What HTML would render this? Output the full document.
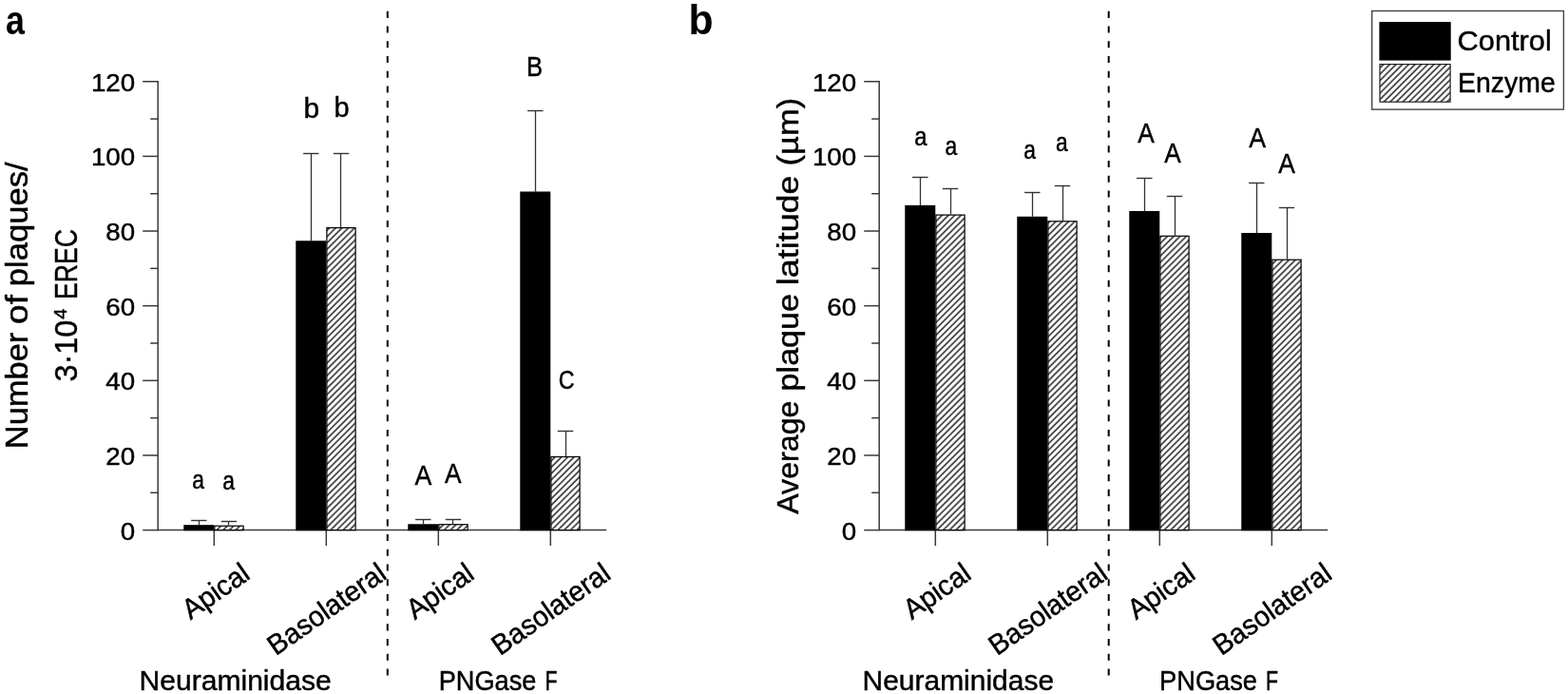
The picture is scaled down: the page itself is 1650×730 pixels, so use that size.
<!DOCTYPE html>
<html><head><meta charset="utf-8"><title>Figure</title>
<style>html,body{margin:0;padding:0;background:#fff;overflow:hidden;}svg{display:block;}</style>
</head><body>
<svg width="1650" height="730" viewBox="0 0 1650 730">
<rect width="1650" height="730" fill="#fff"/>
<defs><pattern id="hatch" patternUnits="userSpaceOnUse" width="4.7" height="20" patternTransform="rotate(45)"><rect width="4.7" height="20" fill="#fff"/><line x1="1" y1="0" x2="1" y2="20" stroke="#000" stroke-width="1.3"/></pattern></defs>
<line x1="166.2" y1="85.06" x2="166.2" y2="558.30" stroke="#3a3a3a" stroke-width="1.5"/>
<line x1="150.2" y1="557.60" x2="166.2" y2="557.60" stroke="#3a3a3a" stroke-width="1.5"/>
<line x1="158.2" y1="518.28" x2="166.2" y2="518.28" stroke="#3a3a3a" stroke-width="1.5"/>
<line x1="150.2" y1="478.96" x2="166.2" y2="478.96" stroke="#3a3a3a" stroke-width="1.5"/>
<line x1="158.2" y1="439.64" x2="166.2" y2="439.64" stroke="#3a3a3a" stroke-width="1.5"/>
<line x1="150.2" y1="400.32" x2="166.2" y2="400.32" stroke="#3a3a3a" stroke-width="1.5"/>
<line x1="158.2" y1="361.00" x2="166.2" y2="361.00" stroke="#3a3a3a" stroke-width="1.5"/>
<line x1="150.2" y1="321.68" x2="166.2" y2="321.68" stroke="#3a3a3a" stroke-width="1.5"/>
<line x1="158.2" y1="282.36" x2="166.2" y2="282.36" stroke="#3a3a3a" stroke-width="1.5"/>
<line x1="150.2" y1="243.04" x2="166.2" y2="243.04" stroke="#3a3a3a" stroke-width="1.5"/>
<line x1="158.2" y1="203.72" x2="166.2" y2="203.72" stroke="#3a3a3a" stroke-width="1.5"/>
<line x1="150.2" y1="164.40" x2="166.2" y2="164.40" stroke="#3a3a3a" stroke-width="1.5"/>
<line x1="158.2" y1="125.08" x2="166.2" y2="125.08" stroke="#3a3a3a" stroke-width="1.5"/>
<line x1="150.2" y1="85.76" x2="166.2" y2="85.76" stroke="#3a3a3a" stroke-width="1.5"/>
<line x1="166.2" y1="557.6" x2="638.2" y2="557.6" stroke="#3a3a3a" stroke-width="1.5"/>
<line x1="225.30" y1="557.6" x2="225.30" y2="574.1" stroke="#3a3a3a" stroke-width="1.5"/>
<line x1="343.30" y1="557.6" x2="343.30" y2="574.1" stroke="#3a3a3a" stroke-width="1.5"/>
<line x1="461.30" y1="557.6" x2="461.30" y2="574.1" stroke="#3a3a3a" stroke-width="1.5"/>
<line x1="579.30" y1="557.6" x2="579.30" y2="574.1" stroke="#3a3a3a" stroke-width="1.5"/>
<line x1="209.50" y1="547.50" x2="209.50" y2="552.20" stroke="#333" stroke-width="1.3"/>
<line x1="201.10" y1="547.50" x2="217.50" y2="547.50" stroke="#333" stroke-width="1.4"/>
<line x1="240.50" y1="548.50" x2="240.50" y2="552.60" stroke="#333" stroke-width="1.3"/>
<line x1="232.80" y1="548.50" x2="249.20" y2="548.50" stroke="#333" stroke-width="1.4"/>
<rect x="193.90" y="552.80" width="30.80" height="4.80" fill="#000" stroke="#000" stroke-width="1.2"/>
<rect x="225.90" y="553.20" width="30.20" height="4.40" fill="url(#hatch)" stroke="#000" stroke-width="1.2"/>
<line x1="327.50" y1="161.50" x2="327.50" y2="253.30" stroke="#333" stroke-width="1.3"/>
<line x1="319.10" y1="161.50" x2="335.50" y2="161.50" stroke="#333" stroke-width="1.4"/>
<line x1="358.50" y1="161.50" x2="358.50" y2="239.00" stroke="#333" stroke-width="1.3"/>
<line x1="350.80" y1="161.50" x2="367.20" y2="161.50" stroke="#333" stroke-width="1.4"/>
<rect x="311.90" y="253.90" width="30.80" height="303.70" fill="#000" stroke="#000" stroke-width="1.2"/>
<rect x="343.90" y="239.60" width="30.20" height="318.00" fill="url(#hatch)" stroke="#000" stroke-width="1.2"/>
<line x1="445.50" y1="546.50" x2="445.50" y2="551.30" stroke="#333" stroke-width="1.3"/>
<line x1="437.10" y1="546.50" x2="453.50" y2="546.50" stroke="#333" stroke-width="1.4"/>
<line x1="476.50" y1="546.50" x2="476.50" y2="551.10" stroke="#333" stroke-width="1.3"/>
<line x1="468.80" y1="546.50" x2="485.20" y2="546.50" stroke="#333" stroke-width="1.4"/>
<rect x="429.90" y="551.90" width="30.80" height="5.70" fill="#000" stroke="#000" stroke-width="1.2"/>
<rect x="461.90" y="551.70" width="30.20" height="5.90" fill="url(#hatch)" stroke="#000" stroke-width="1.2"/>
<line x1="563.50" y1="116.50" x2="563.50" y2="201.50" stroke="#333" stroke-width="1.3"/>
<line x1="555.10" y1="116.50" x2="571.50" y2="116.50" stroke="#333" stroke-width="1.4"/>
<line x1="595.50" y1="453.50" x2="595.50" y2="479.90" stroke="#333" stroke-width="1.3"/>
<line x1="586.80" y1="453.50" x2="603.20" y2="453.50" stroke="#333" stroke-width="1.4"/>
<rect x="547.90" y="202.10" width="30.80" height="355.50" fill="#000" stroke="#000" stroke-width="1.2"/>
<rect x="579.90" y="480.50" width="30.20" height="77.10" fill="url(#hatch)" stroke="#000" stroke-width="1.2"/>
<line x1="407.8" y1="11.8" x2="407.8" y2="711" stroke="#000" stroke-width="2" stroke-dasharray="7.1 8.62"/>
<line x1="925.2" y1="85.06" x2="925.2" y2="558.30" stroke="#3a3a3a" stroke-width="1.5"/>
<line x1="909.2" y1="557.60" x2="925.2" y2="557.60" stroke="#3a3a3a" stroke-width="1.5"/>
<line x1="917.2" y1="518.28" x2="925.2" y2="518.28" stroke="#3a3a3a" stroke-width="1.5"/>
<line x1="909.2" y1="478.96" x2="925.2" y2="478.96" stroke="#3a3a3a" stroke-width="1.5"/>
<line x1="917.2" y1="439.64" x2="925.2" y2="439.64" stroke="#3a3a3a" stroke-width="1.5"/>
<line x1="909.2" y1="400.32" x2="925.2" y2="400.32" stroke="#3a3a3a" stroke-width="1.5"/>
<line x1="917.2" y1="361.00" x2="925.2" y2="361.00" stroke="#3a3a3a" stroke-width="1.5"/>
<line x1="909.2" y1="321.68" x2="925.2" y2="321.68" stroke="#3a3a3a" stroke-width="1.5"/>
<line x1="917.2" y1="282.36" x2="925.2" y2="282.36" stroke="#3a3a3a" stroke-width="1.5"/>
<line x1="909.2" y1="243.04" x2="925.2" y2="243.04" stroke="#3a3a3a" stroke-width="1.5"/>
<line x1="917.2" y1="203.72" x2="925.2" y2="203.72" stroke="#3a3a3a" stroke-width="1.5"/>
<line x1="909.2" y1="164.40" x2="925.2" y2="164.40" stroke="#3a3a3a" stroke-width="1.5"/>
<line x1="917.2" y1="125.08" x2="925.2" y2="125.08" stroke="#3a3a3a" stroke-width="1.5"/>
<line x1="909.2" y1="85.76" x2="925.2" y2="85.76" stroke="#3a3a3a" stroke-width="1.5"/>
<line x1="925.2" y1="557.6" x2="1397.2" y2="557.6" stroke="#3a3a3a" stroke-width="1.5"/>
<line x1="984.30" y1="557.6" x2="984.30" y2="574.1" stroke="#3a3a3a" stroke-width="1.5"/>
<line x1="1102.30" y1="557.6" x2="1102.30" y2="574.1" stroke="#3a3a3a" stroke-width="1.5"/>
<line x1="1220.30" y1="557.6" x2="1220.30" y2="574.1" stroke="#3a3a3a" stroke-width="1.5"/>
<line x1="1338.30" y1="557.6" x2="1338.30" y2="574.1" stroke="#3a3a3a" stroke-width="1.5"/>
<line x1="968.50" y1="186.50" x2="968.50" y2="215.90" stroke="#333" stroke-width="1.3"/>
<line x1="960.10" y1="186.50" x2="976.50" y2="186.50" stroke="#333" stroke-width="1.4"/>
<line x1="1000.50" y1="198.50" x2="1000.50" y2="225.50" stroke="#333" stroke-width="1.3"/>
<line x1="991.80" y1="198.50" x2="1008.20" y2="198.50" stroke="#333" stroke-width="1.4"/>
<rect x="952.90" y="216.50" width="30.80" height="341.10" fill="#000" stroke="#000" stroke-width="1.2"/>
<rect x="984.90" y="226.10" width="30.20" height="331.50" fill="url(#hatch)" stroke="#000" stroke-width="1.2"/>
<line x1="1086.50" y1="202.50" x2="1086.50" y2="227.80" stroke="#333" stroke-width="1.3"/>
<line x1="1078.10" y1="202.50" x2="1094.50" y2="202.50" stroke="#333" stroke-width="1.4"/>
<line x1="1118.50" y1="195.50" x2="1118.50" y2="232.20" stroke="#333" stroke-width="1.3"/>
<line x1="1109.80" y1="195.50" x2="1126.20" y2="195.50" stroke="#333" stroke-width="1.4"/>
<rect x="1070.90" y="228.40" width="30.80" height="329.20" fill="#000" stroke="#000" stroke-width="1.2"/>
<rect x="1102.90" y="232.80" width="30.20" height="324.80" fill="url(#hatch)" stroke="#000" stroke-width="1.2"/>
<line x1="1204.50" y1="187.50" x2="1204.50" y2="222.00" stroke="#333" stroke-width="1.3"/>
<line x1="1196.10" y1="187.50" x2="1212.50" y2="187.50" stroke="#333" stroke-width="1.4"/>
<line x1="1236.50" y1="206.50" x2="1236.50" y2="247.70" stroke="#333" stroke-width="1.3"/>
<line x1="1227.80" y1="206.50" x2="1244.20" y2="206.50" stroke="#333" stroke-width="1.4"/>
<rect x="1188.90" y="222.60" width="30.80" height="335.00" fill="#000" stroke="#000" stroke-width="1.2"/>
<rect x="1220.90" y="248.30" width="30.20" height="309.30" fill="url(#hatch)" stroke="#000" stroke-width="1.2"/>
<line x1="1322.50" y1="192.50" x2="1322.50" y2="245.00" stroke="#333" stroke-width="1.3"/>
<line x1="1314.10" y1="192.50" x2="1330.50" y2="192.50" stroke="#333" stroke-width="1.4"/>
<line x1="1354.50" y1="218.50" x2="1354.50" y2="272.60" stroke="#333" stroke-width="1.3"/>
<line x1="1345.80" y1="218.50" x2="1362.20" y2="218.50" stroke="#333" stroke-width="1.4"/>
<rect x="1306.90" y="245.60" width="30.80" height="312.00" fill="#000" stroke="#000" stroke-width="1.2"/>
<rect x="1338.90" y="273.20" width="30.20" height="284.40" fill="url(#hatch)" stroke="#000" stroke-width="1.2"/>
<line x1="1166.7" y1="11.8" x2="1166.7" y2="711" stroke="#000" stroke-width="2" stroke-dasharray="7.1 8.62"/>
<text transform="translate(6.12,36.17) scale(0.1794,0.2145)" font-size="200" font-family="'Liberation Sans', Arial, sans-serif" font-weight="bold" fill="#000">a</text>
<text transform="translate(724.52,36.15) scale(0.2139,0.2231)" font-size="200" font-family="'Liberation Sans', Arial, sans-serif" font-weight="bold" fill="#000">b</text>
<text transform="translate(126.70,567.61) scale(0.1385,0.1335)" font-size="200" font-family="'Liberation Sans', Arial, sans-serif" fill="#000" stroke="#000" stroke-width="3.31" stroke-linejoin="round">0</text>
<text transform="translate(111.33,488.97) scale(0.1385,0.1335)" font-size="200" font-family="'Liberation Sans', Arial, sans-serif" fill="#000" stroke="#000" stroke-width="3.31" stroke-linejoin="round">20</text>
<text transform="translate(111.33,410.33) scale(0.1385,0.1335)" font-size="200" font-family="'Liberation Sans', Arial, sans-serif" fill="#000" stroke="#000" stroke-width="3.31" stroke-linejoin="round">40</text>
<text transform="translate(111.33,331.69) scale(0.1385,0.1335)" font-size="200" font-family="'Liberation Sans', Arial, sans-serif" fill="#000" stroke="#000" stroke-width="3.31" stroke-linejoin="round">60</text>
<text transform="translate(111.33,253.05) scale(0.1385,0.1335)" font-size="200" font-family="'Liberation Sans', Arial, sans-serif" fill="#000" stroke="#000" stroke-width="3.31" stroke-linejoin="round">80</text>
<text transform="translate(95.95,174.41) scale(0.1385,0.1335)" font-size="200" font-family="'Liberation Sans', Arial, sans-serif" fill="#000" stroke="#000" stroke-width="3.31" stroke-linejoin="round">100</text>
<text transform="translate(95.95,95.77) scale(0.1385,0.1335)" font-size="200" font-family="'Liberation Sans', Arial, sans-serif" fill="#000" stroke="#000" stroke-width="3.31" stroke-linejoin="round">120</text>
<text transform="translate(885.70,567.61) scale(0.1385,0.1335)" font-size="200" font-family="'Liberation Sans', Arial, sans-serif" fill="#000" stroke="#000" stroke-width="3.31" stroke-linejoin="round">0</text>
<text transform="translate(870.33,488.97) scale(0.1385,0.1335)" font-size="200" font-family="'Liberation Sans', Arial, sans-serif" fill="#000" stroke="#000" stroke-width="3.31" stroke-linejoin="round">20</text>
<text transform="translate(870.33,410.33) scale(0.1385,0.1335)" font-size="200" font-family="'Liberation Sans', Arial, sans-serif" fill="#000" stroke="#000" stroke-width="3.31" stroke-linejoin="round">40</text>
<text transform="translate(870.33,331.69) scale(0.1385,0.1335)" font-size="200" font-family="'Liberation Sans', Arial, sans-serif" fill="#000" stroke="#000" stroke-width="3.31" stroke-linejoin="round">60</text>
<text transform="translate(870.33,253.05) scale(0.1385,0.1335)" font-size="200" font-family="'Liberation Sans', Arial, sans-serif" fill="#000" stroke="#000" stroke-width="3.31" stroke-linejoin="round">80</text>
<text transform="translate(854.95,174.41) scale(0.1385,0.1335)" font-size="200" font-family="'Liberation Sans', Arial, sans-serif" fill="#000" stroke="#000" stroke-width="3.31" stroke-linejoin="round">100</text>
<text transform="translate(854.95,95.77) scale(0.1385,0.1335)" font-size="200" font-family="'Liberation Sans', Arial, sans-serif" fill="#000" stroke="#000" stroke-width="3.31" stroke-linejoin="round">120</text>
<text transform="translate(202.20,513.69) scale(0.1142,0.1405)" font-size="200" font-family="'Liberation Sans', Arial, sans-serif" fill="#000" stroke="#000" stroke-width="3.55" stroke-linejoin="round">a</text>
<text transform="translate(234.20,515.30) scale(0.1142,0.1386)" font-size="200" font-family="'Liberation Sans', Arial, sans-serif" fill="#000" stroke="#000" stroke-width="3.58" stroke-linejoin="round">a</text>
<text transform="translate(319.38,124.18) scale(0.1494,0.1486)" font-size="200" font-family="'Liberation Sans', Arial, sans-serif" fill="#000" stroke="#000" stroke-width="3.02" stroke-linejoin="round">b</text>
<text transform="translate(351.44,123.28) scale(0.1450,0.1500)" font-size="200" font-family="'Liberation Sans', Arial, sans-serif" fill="#000" stroke="#000" stroke-width="3.05" stroke-linejoin="round">b</text>
<text transform="translate(436.39,509.67) scale(0.1337,0.1475)" font-size="200" font-family="'Liberation Sans', Arial, sans-serif" fill="#000" stroke="#000" stroke-width="3.20" stroke-linejoin="round">A</text>
<text transform="translate(468.09,507.67) scale(0.1314,0.1467)" font-size="200" font-family="'Liberation Sans', Arial, sans-serif" fill="#000" stroke="#000" stroke-width="3.24" stroke-linejoin="round">A</text>
<text transform="translate(553.98,79.68) scale(0.1276,0.1482)" font-size="200" font-family="'Liberation Sans', Arial, sans-serif" fill="#000" stroke="#000" stroke-width="3.27" stroke-linejoin="round">B</text>
<text transform="translate(587.66,409.39) scale(0.1163,0.1419)" font-size="200" font-family="'Liberation Sans', Arial, sans-serif" fill="#000" stroke="#000" stroke-width="3.50" stroke-linejoin="round">C</text>
<text transform="translate(962.35,152.60) scale(0.1191,0.1395)" font-size="200" font-family="'Liberation Sans', Arial, sans-serif" fill="#000" stroke="#000" stroke-width="3.49" stroke-linejoin="round">a</text>
<text transform="translate(994.40,163.10) scale(0.1142,0.1395)" font-size="200" font-family="'Liberation Sans', Arial, sans-serif" fill="#000" stroke="#000" stroke-width="3.56" stroke-linejoin="round">a</text>
<text transform="translate(1077.30,167.09) scale(0.1142,0.1405)" font-size="200" font-family="'Liberation Sans', Arial, sans-serif" fill="#000" stroke="#000" stroke-width="3.55" stroke-linejoin="round">a</text>
<text transform="translate(1110.90,159.20) scale(0.1142,0.1377)" font-size="200" font-family="'Liberation Sans', Arial, sans-serif" fill="#000" stroke="#000" stroke-width="3.59" stroke-linejoin="round">a</text>
<text transform="translate(1197.19,150.28) scale(0.1314,0.1438)" font-size="200" font-family="'Liberation Sans', Arial, sans-serif" fill="#000" stroke="#000" stroke-width="3.27" stroke-linejoin="round">A</text>
<text transform="translate(1225.29,170.78) scale(0.1314,0.1467)" font-size="200" font-family="'Liberation Sans', Arial, sans-serif" fill="#000" stroke="#000" stroke-width="3.24" stroke-linejoin="round">A</text>
<text transform="translate(1314.29,154.88) scale(0.1337,0.1438)" font-size="200" font-family="'Liberation Sans', Arial, sans-serif" fill="#000" stroke="#000" stroke-width="3.24" stroke-linejoin="round">A</text>
<text transform="translate(1345.19,181.58) scale(0.1322,0.1467)" font-size="200" font-family="'Liberation Sans', Arial, sans-serif" fill="#000" stroke="#000" stroke-width="3.23" stroke-linejoin="round">A</text>
<text transform="translate(146.52,726.08) scale(0.1504,0.1466)" font-size="200" font-family="'Liberation Sans', Arial, sans-serif" fill="#000" stroke="#000" stroke-width="3.03" stroke-linejoin="round">Neuraminidase</text>
<text transform="translate(461.65,725.99) scale(0.1359,0.1447)" font-size="200" font-family="'Liberation Sans', Arial, sans-serif" fill="#000" stroke="#000" stroke-width="3.21" stroke-linejoin="round">PNGase</text>
<text transform="translate(573.52,726.07) scale(0.1066,0.1475)" font-size="200" font-family="'Liberation Sans', Arial, sans-serif" fill="#000" stroke="#000" stroke-width="3.59" stroke-linejoin="round">F</text>
<text transform="translate(907.53,726.08) scale(0.1499,0.1466)" font-size="200" font-family="'Liberation Sans', Arial, sans-serif" fill="#000" stroke="#000" stroke-width="3.04" stroke-linejoin="round">Neuraminidase</text>
<text transform="translate(1220.05,725.99) scale(0.1362,0.1447)" font-size="200" font-family="'Liberation Sans', Arial, sans-serif" fill="#000" stroke="#000" stroke-width="3.21" stroke-linejoin="round">PNGase</text>
<text transform="translate(1332.02,726.07) scale(0.1066,0.1475)" font-size="200" font-family="'Liberation Sans', Arial, sans-serif" fill="#000" stroke="#000" stroke-width="3.59" stroke-linejoin="round">F</text>
<rect x="1443.7" y="11.5" width="201.7" height="103.6" fill="none" stroke="#444" stroke-width="1.4"/>
<rect x="1452" y="23.7" width="74.1" height="39.3" fill="#000" stroke="#000" stroke-width="1.2"/>
<rect x="1452" y="67.6" width="74.1" height="39.6" fill="url(#hatch)" stroke="#222" stroke-width="1.2"/>
<text transform="translate(1533.59,52.99) scale(0.1539,0.1432)" font-size="200" font-family="'Liberation Sans', Arial, sans-serif" fill="#000" stroke="#000" stroke-width="3.03" stroke-linejoin="round">Control</text>
<text transform="translate(1534.05,97.37) scale(0.1421,0.1431)" font-size="200" font-family="'Liberation Sans', Arial, sans-serif" fill="#000" stroke="#000" stroke-width="3.16" stroke-linejoin="round">Enzyme</text>
<text transform="translate(28.57,469.47) rotate(-90) translate(-2.76,0.00) scale(0.1723,0.1661)" font-size="200" font-family="'Liberation Sans', Arial, sans-serif" fill="#000" stroke="#000" stroke-width="2.66" stroke-linejoin="round">Number</text>
<text transform="translate(28.57,339.47) rotate(-90) translate(-1.48,0.00) scale(0.1852,0.1661)" font-size="200" font-family="'Liberation Sans', Arial, sans-serif" fill="#000" stroke="#000" stroke-width="2.57" stroke-linejoin="round">of</text>
<text transform="translate(28.57,298.88) rotate(-90) translate(-2.25,0.00) scale(0.1731,0.1661)" font-size="200" font-family="'Liberation Sans', Arial, sans-serif" fill="#000" stroke="#000" stroke-width="2.65" stroke-linejoin="round">plaques/</text>
<text transform="translate(81.48,400.27) rotate(-90) translate(-1.30,0.00) scale(0.1621,0.1632)" font-size="200" font-family="'Liberation Sans', Arial, sans-serif" fill="#000" stroke="#000" stroke-width="2.77" stroke-linejoin="round">3·10</text>
<text transform="translate(70.18,335.17) rotate(-90) translate(-0.50,-0.00) scale(0.1005,0.0909)" font-size="200" font-family="'Liberation Sans', Arial, sans-serif" fill="#000" stroke="#000" stroke-width="4.71" stroke-linejoin="round">4</text>
<text transform="translate(81.28,312.77) rotate(-90) translate(-2.13,0.00) scale(0.1332,0.1632)" font-size="200" font-family="'Liberation Sans', Arial, sans-serif" fill="#000" stroke="#000" stroke-width="3.05" stroke-linejoin="round">EREC</text>
<text transform="translate(840.48,540.67) rotate(-90) translate(-0.16,0.00) scale(0.1609,0.1602)" font-size="200" font-family="'Liberation Sans', Arial, sans-serif" fill="#000" stroke="#000" stroke-width="2.80" stroke-linejoin="round">Average</text>
<text transform="translate(840.48,409.17) rotate(-90) translate(-2.22,0.00) scale(0.1705,0.1602)" font-size="200" font-family="'Liberation Sans', Arial, sans-serif" fill="#000" stroke="#000" stroke-width="2.72" stroke-linejoin="round">plaque</text>
<text transform="translate(840.48,297.88) rotate(-90) translate(-2.33,0.00) scale(0.1795,0.1602)" font-size="200" font-family="'Liberation Sans', Arial, sans-serif" fill="#000" stroke="#000" stroke-width="2.65" stroke-linejoin="round">latitude</text>
<text transform="translate(840.48,172.38) rotate(-90) translate(-2.08,0.00) scale(0.1729,0.1602)" font-size="200" font-family="'Liberation Sans', Arial, sans-serif" fill="#000" stroke="#000" stroke-width="2.70" stroke-linejoin="round">(µm)</text>
<text transform="translate(200.48,652.56) rotate(-35) translate(0.00,0.00) scale(0.1442,0.1493)" font-size="200" font-family="'Liberation Sans', Arial, sans-serif" fill="#000" stroke="#000" stroke-width="3.07" stroke-linejoin="round">Apical</text>
<text transform="translate(290.27,690.29) rotate(-35) translate(0.00,0.00) scale(0.1442,0.1493)" font-size="200" font-family="'Liberation Sans', Arial, sans-serif" fill="#000" stroke="#000" stroke-width="3.07" stroke-linejoin="round">Basolateral</text>
<text transform="translate(436.48,652.56) rotate(-35) translate(0.00,0.00) scale(0.1442,0.1493)" font-size="200" font-family="'Liberation Sans', Arial, sans-serif" fill="#000" stroke="#000" stroke-width="3.07" stroke-linejoin="round">Apical</text>
<text transform="translate(526.27,690.29) rotate(-35) translate(0.00,0.00) scale(0.1442,0.1493)" font-size="200" font-family="'Liberation Sans', Arial, sans-serif" fill="#000" stroke="#000" stroke-width="3.07" stroke-linejoin="round">Basolateral</text>
<text transform="translate(959.48,652.56) rotate(-35) translate(0.00,0.00) scale(0.1442,0.1493)" font-size="200" font-family="'Liberation Sans', Arial, sans-serif" fill="#000" stroke="#000" stroke-width="3.07" stroke-linejoin="round">Apical</text>
<text transform="translate(1049.27,690.29) rotate(-35) translate(0.00,0.00) scale(0.1442,0.1493)" font-size="200" font-family="'Liberation Sans', Arial, sans-serif" fill="#000" stroke="#000" stroke-width="3.07" stroke-linejoin="round">Basolateral</text>
<text transform="translate(1195.48,652.56) rotate(-35) translate(0.00,0.00) scale(0.1442,0.1493)" font-size="200" font-family="'Liberation Sans', Arial, sans-serif" fill="#000" stroke="#000" stroke-width="3.07" stroke-linejoin="round">Apical</text>
<text transform="translate(1285.27,690.29) rotate(-35) translate(0.00,0.00) scale(0.1442,0.1493)" font-size="200" font-family="'Liberation Sans', Arial, sans-serif" fill="#000" stroke="#000" stroke-width="3.07" stroke-linejoin="round">Basolateral</text>
</svg>
</body></html>
